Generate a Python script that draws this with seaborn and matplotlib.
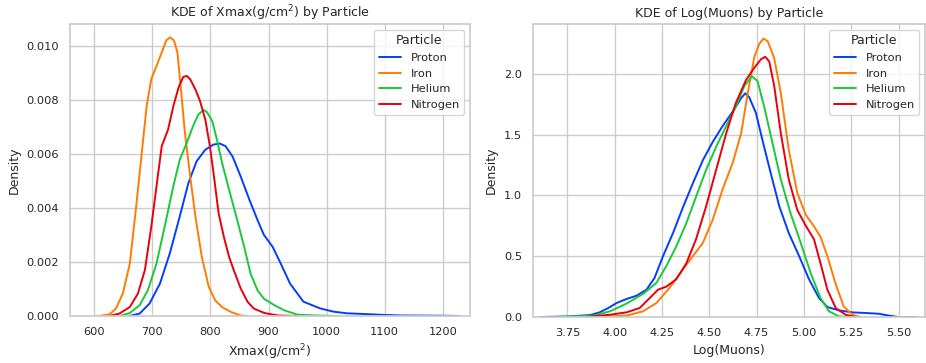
import numpy as np
import pandas as pd
import matplotlib.pyplot as plt
import seaborn as sns

particles = ["Proton", "Iron", "Helium", "Nitrogen"]

# Xmax(g/cm2) density curves
xmax_proton_x = [660, 678, 695, 713, 730, 747, 762, 776, 791, 805, 816, 826, 838, 852, 867, 881,
                 892, 907, 921, 937, 960, 989, 1012, 1035, 1069, 1098, 1127, 1200, 1230]
xmax_proton_y = [0.0, 0.00009, 0.00046, 0.0012, 0.00232, 0.00368, 0.00492, 0.00572, 0.00615, 0.00634,
                 0.00638, 0.00628, 0.0059, 0.00516, 0.0043, 0.00355, 0.003, 0.00256, 0.00194, 0.0012,
                 0.00053, 0.00028, 0.00016, 0.0001, 0.00007, 0.00004, 0.00002, 0.00001, 0.0]

xmax_iron_x = [608, 626, 637, 649, 661, 672, 681, 690, 698, 707, 716, 724, 730, 737, 743, 749, 756,
               765, 774, 785, 797, 808, 820, 835, 852, 862]
xmax_iron_y = [0.0, 0.00006, 0.00027, 0.00083, 0.00194, 0.00405, 0.0059, 0.00776, 0.00876, 0.00925,
               0.00975, 0.0102, 0.0103, 0.0102, 0.00975, 0.0084, 0.00677, 0.00516, 0.00368, 0.00219,
               0.00108, 0.00058, 0.00033, 0.00015, 0.00002, 0.0]

xmax_helium_x = [643, 661, 678, 692, 707, 721, 736, 747, 759, 771, 779, 788, 794, 803, 811, 820, 832,
                 846, 858, 869, 881, 892, 910, 927, 950, 980, 1020]
xmax_helium_y = [0.0, 0.00011, 0.0004, 0.00095, 0.00194, 0.0033, 0.0048, 0.00578, 0.0064, 0.00708,
                 0.00745, 0.00762, 0.00754, 0.00721, 0.00653, 0.00566, 0.00467, 0.00355, 0.00256,
                 0.00157, 0.00095, 0.00064, 0.0004, 0.00021, 0.00005, 0.00002, 0.0]

xmax_nitrogen_x = [626, 643, 661, 675, 687, 698, 707, 716, 727, 736, 745, 753, 759, 765, 774, 782, 791,
                   799, 806, 814, 823, 832, 840, 852, 864, 875, 893, 916, 950]
xmax_nitrogen_y = [0.0, 0.00009, 0.00033, 0.00083, 0.0017, 0.0033, 0.0048, 0.00628, 0.0069, 0.00776,
                   0.00845, 0.00884, 0.00888, 0.00876, 0.00838, 0.00795, 0.00727, 0.00628, 0.00516,
                   0.0038, 0.00293, 0.00219, 0.0017, 0.00102, 0.00052, 0.00027, 0.00011, 0.00002, 0.0]

# Log(Muons) density curves
mu_proton_x = [3.61, 3.764, 3.87, 3.92, 3.966, 4.01, 4.062, 4.115, 4.168, 4.21, 4.255, 4.308, 4.36,
               4.413, 4.466, 4.518, 4.57, 4.624, 4.668, 4.69, 4.71, 4.746, 4.78, 4.825, 4.87, 4.92,
               4.975, 5.027, 5.08, 5.124, 5.185, 5.255, 5.325, 5.395, 5.45, 5.50, 5.6]
mu_proton_y = [0.0, 0.005, 0.016, 0.038, 0.074, 0.115, 0.148, 0.175, 0.225, 0.32, 0.5, 0.69, 0.9,
               1.1, 1.29, 1.44, 1.57, 1.69, 1.8, 1.84, 1.81, 1.68, 1.46, 1.18, 0.91, 0.69, 0.5,
               0.31, 0.156, 0.082, 0.055, 0.038, 0.033, 0.027, 0.011, 0.0, 0.0]

mu_iron_x = [3.887, 4.062, 4.15, 4.22, 4.29, 4.36, 4.413, 4.466, 4.518, 4.57, 4.624, 4.668, 4.703,
             4.738, 4.765, 4.786, 4.808, 4.843, 4.878, 4.92, 4.965, 5.01, 5.053, 5.088, 5.124,
             5.168, 5.21, 5.255, 5.3]
mu_iron_y = [0.0, 0.011, 0.047, 0.115, 0.24, 0.39, 0.5, 0.61, 0.8, 1.05, 1.27, 1.51, 1.84, 2.14,
             2.25, 2.29, 2.27, 2.13, 1.84, 1.375, 1.02, 0.84, 0.745, 0.66, 0.5, 0.27, 0.088,
             0.019, 0.0]

mu_helium_x = [3.71, 3.887, 3.975, 4.062, 4.15, 4.22, 4.273, 4.325, 4.378, 4.43, 4.483, 4.536,
               4.589, 4.64, 4.685, 4.725, 4.755, 4.79, 4.834, 4.878, 4.93, 4.983, 5.036, 5.088,
               5.132, 5.185, 5.25]
mu_helium_y = [0.0, 0.011, 0.047, 0.11, 0.19, 0.28, 0.42, 0.58, 0.77, 0.99, 1.21, 1.40, 1.57,
               1.73, 1.9, 1.98, 1.94, 1.73, 1.43, 1.13, 0.85, 0.61, 0.36, 0.156, 0.047, 0.005, 0.0]

mu_nitrogen_x = [3.85, 3.975, 4.062, 4.132, 4.185, 4.229, 4.273, 4.325, 4.378, 4.43, 4.483, 4.536,
                 4.589, 4.64, 4.694, 4.738, 4.773, 4.796, 4.817, 4.843, 4.878, 4.92, 4.965, 5.01,
                 5.053, 5.088, 5.124, 5.168, 5.22, 5.27]
mu_nitrogen_y = [0.0, 0.019, 0.038, 0.074, 0.156, 0.225, 0.25, 0.31, 0.44, 0.64, 0.91, 1.21, 1.51,
                 1.76, 1.95, 2.05, 2.12, 2.14, 2.10, 1.90, 1.51, 1.13, 0.88, 0.75, 0.64, 0.44,
                 0.225, 0.074, 0.019, 0.0]


def long_df(xs, ys):
    frames = []
    for name, x, y in zip(particles, xs, ys):
        frames.append(pd.DataFrame({"x": x, "Density": y, "Particle": name}))
    return pd.concat(frames, ignore_index=True)


xmax_df = long_df([xmax_proton_x, xmax_iron_x, xmax_helium_x, xmax_nitrogen_x],
                  [xmax_proton_y, xmax_iron_y, xmax_helium_y, xmax_nitrogen_y])
mu_df = long_df([mu_proton_x, mu_iron_x, mu_helium_x, mu_nitrogen_x],
                [mu_proton_y, mu_iron_y, mu_helium_y, mu_nitrogen_y])

sns.set_theme(style="whitegrid")
palette = sns.color_palette("bright", 4)

fig = plt.figure(figsize=(9.26, 3.63), dpi=100)
ax1 = fig.add_axes([70 / 926, 1 - 316 / 363, 400 / 926, 292 / 363])
ax2 = fig.add_axes([533 / 926, 1 - 317 / 363, 392 / 926, 293 / 363])

panels = [
    (ax1, xmax_df, "Xmax(g/cm$^2$)", "KDE of Xmax(g/cm$^2$) by Particle", (558, 1247), (0, 0.0108)),
    (ax2, mu_df, "Log(Muons)", "KDE of Log(Muons) by Particle", (3.568, 5.64), (0, 2.41)),
]

for ax, df, xlabel, title, xlim, ylim in panels:
    sns.lineplot(data=df, x="x", y="Density", hue="Particle", hue_order=particles,
                 palette=palette, linewidth=1.4, errorbar=None, ax=ax)
    ax.set_xlim(*xlim)
    ax.set_ylim(*ylim)
    ax.set_xlabel(xlabel, fontsize=9)
    ax.set_ylabel("Density", fontsize=9)
    ax.set_title(title, fontsize=9, pad=5)
    ax.tick_params(labelsize=8.2, pad=2)
    leg = ax.legend(title="Particle", loc="upper right", fontsize=8.2, title_fontsize=9)

ax1.set_xticks([600, 700, 800, 900, 1000, 1100, 1200])
ax1.set_yticks([0.0, 0.002, 0.004, 0.006, 0.008, 0.010])
ax1.set_yticklabels(["0.000", "0.002", "0.004", "0.006", "0.008", "0.010"])
ax2.set_xticks([3.75, 4.0, 4.25, 4.5, 4.75, 5.0, 5.25, 5.5])
ax2.set_xticklabels(["3.75", "4.00", "4.25", "4.50", "4.75", "5.00", "5.25", "5.50"])
ax2.set_yticks([0.0, 0.5, 1.0, 1.5, 2.0])

fig.savefig("out.png", dpi=100)
